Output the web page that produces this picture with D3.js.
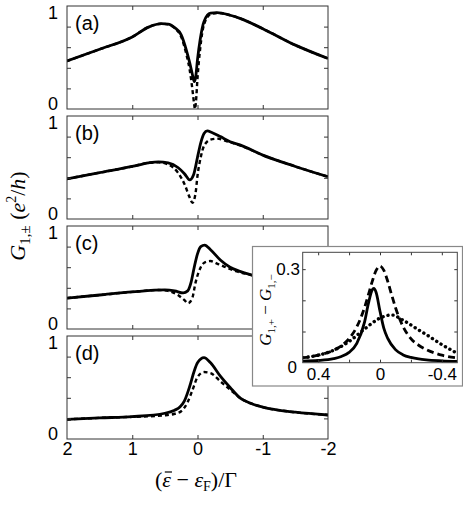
<!DOCTYPE html>
<html>
<head>
    <meta charset="utf-8">
    <title></title>
    <style>
        body { margin: 0; background: #fff; }
        .tick text { font-family: "Liberation Sans", Arial, sans-serif; }
    </style>
</head>
<body>
    <script src="https://d3js.org/d3.v7.min.js"></script>
    <script>

    // panel labels
    var panelNames = ["(a)", "(b)", "(c)", "(d)"];

    // main panels: [x, G]
    var aSolid = [[2,0.466],[1.5,0.58],[1,0.70],[0.75,0.795],[0.55,0.828],[0.45,0.825],[0.35,0.79],[0.25,0.72],[0.17,0.57],[0.12,0.45],[0.08,0.34],[0.05,0.265],[0.03,0.30],[0,0.48],[-0.04,0.67],[-0.1,0.85],[-0.2,0.93],[-0.3,0.935],[-0.5,0.91],[-0.65,0.88],[-1,0.78],[-1.5,0.62],[-2,0.49]];
    var aDashed = [[2,0.466],[1.5,0.58],[1,0.70],[0.75,0.795],[0.55,0.828],[0.45,0.822],[0.35,0.785],[0.25,0.70],[0.17,0.53],[0.12,0.38],[0.08,0.20],[0.05,0.04],[0.04,0.0],[0.025,0.06],[0,0.30],[-0.04,0.58],[-0.1,0.82],[-0.2,0.92],[-0.3,0.932],[-0.5,0.91],[-0.65,0.88],[-1,0.78],[-1.5,0.62],[-2,0.49]];

    var bSolid = [[2,0.39],[1.5,0.45],[1,0.51],[0.75,0.545],[0.6,0.555],[0.45,0.545],[0.3,0.50],[0.2,0.44],[0.12,0.38],[0.06,0.43],[0,0.60],[-0.05,0.74],[-0.1,0.83],[-0.15,0.855],[-0.22,0.84],[-0.35,0.80],[-0.5,0.75],[-0.65,0.72],[-1,0.62],[-1.5,0.51],[-2,0.41]];
    var bDashed = [[2,0.39],[1.5,0.45],[1,0.51],[0.75,0.545],[0.6,0.55],[0.45,0.53],[0.3,0.45],[0.2,0.34],[0.12,0.21],[0.077,0.158],[0.03,0.25],[0,0.42],[-0.05,0.60],[-0.1,0.71],[-0.2,0.77],[-0.3,0.78],[-0.45,0.755],[-0.65,0.715],[-1,0.62],[-1.5,0.51],[-2,0.41]];

    var cSolid = [[2,0.30],[1.5,0.33],[1,0.36],[0.5,0.38],[0.35,0.37],[0.22,0.35],[0.15,0.37],[0.1,0.45],[0.05,0.60],[0,0.73],[-0.05,0.80],[-0.11,0.815],[-0.2,0.77],[-0.35,0.67],[-0.5,0.60],[-0.65,0.56],[-0.85,0.52],[-1,0.49],[-1.5,0.39],[-2,0.31]];
    var cDashed = [[2,0.30],[1.5,0.33],[1,0.36],[0.6,0.378],[0.45,0.37],[0.3,0.33],[0.2,0.28],[0.145,0.25],[0.08,0.30],[0.03,0.45],[-0.05,0.60],[-0.12,0.65],[-0.2,0.66],[-0.3,0.635],[-0.45,0.595],[-0.6,0.56],[-0.85,0.52],[-1,0.49],[-1.5,0.39],[-2,0.31]];

    var dSolid = [[2,0.19],[1.5,0.205],[1,0.217],[0.5,0.25],[0.35,0.28],[0.27,0.31],[0.2,0.37],[0.12,0.51],[0.05,0.66],[0,0.74],[-0.1,0.79],[-0.2,0.74],[-0.35,0.61],[-0.5,0.50],[-0.65,0.40],[-0.8,0.35],[-1,0.31],[-1.5,0.26],[-2,0.233]];
    var dDashed = [[2,0.19],[1.5,0.205],[1,0.215],[0.5,0.23],[0.35,0.245],[0.25,0.27],[0.15,0.36],[0.08,0.47],[0,0.60],[-0.1,0.65],[-0.2,0.64],[-0.35,0.56],[-0.5,0.48],[-0.65,0.40],[-0.8,0.35],[-1,0.31],[-1.5,0.26],[-2,0.233]];

    // inset: G1,+ - G1,-
    var insetSolid = [[0.5,0.005],[0.4,0.007],[0.3,0.013],[0.25,0.02],[0.2,0.033],[0.15,0.062],[0.1,0.13],[0.075,0.19],[0.05,0.234],[0.04,0.238],[0.025,0.225],[0,0.165],[-0.025,0.11],[-0.05,0.078],[-0.1,0.042],[-0.15,0.025],[-0.2,0.017],[-0.25,0.012],[-0.3,0.009],[-0.4,0.006],[-0.5,0.004]];
    var insetDashed = [[0.5,0.016],[0.4,0.024],[0.3,0.04],[0.25,0.054],[0.2,0.077],[0.15,0.115],[0.1,0.177],[0.075,0.218],[0.05,0.261],[0.025,0.296],[0,0.31],[-0.025,0.296],[-0.05,0.261],[-0.075,0.218],[-0.1,0.177],[-0.15,0.115],[-0.2,0.077],[-0.25,0.056],[-0.3,0.042],[-0.4,0.024],[-0.5,0.015]];
    var insetDotted = [[0.5,0.016],[0.4,0.024],[0.3,0.04],[0.2,0.068],[0.1,0.108],[0,0.143],[-0.075,0.153],[-0.15,0.136],[-0.25,0.105],[-0.3,0.09],[-0.4,0.058],[-0.5,0.03]];

    // tick values
    var xTicks = [2, 1, 0, -1, -2];
    var xTickLabels = ["2", "1", "0", "-1", "-2"];
    var yMinorTicks = [0.2, 0.4, 0.6, 0.8];
    var insetXTicks = [0.4, 0.2, 0, -0.2, -0.4];
    var insetXLabels = ["0.4", "", "0", "", "-0.4"];
    var insetYTicks = [0.1, 0.2, 0.3];

    var panels = [
        { name: panelNames[0], solid: aSolid, dashed: aDashed },
        { name: panelNames[1], solid: bSolid, dashed: bDashed },
        { name: panelNames[2], solid: cSolid, dashed: cDashed },
        { name: panelNames[3], solid: dSolid, dashed: dDashed }
    ];

    var sans = "'Liberation Sans', Arial, sans-serif";
    var serif = "'Liberation Serif', 'Times New Roman', serif";

    var svg = d3.select("body")
        .append("svg")
        .attr("width", 463)
        .attr("height", 506);

    // shared x scale (reversed)
    var left = 67, right = 328, panelH = 103, step = 110, top0 = 6;
    var x = d3.scaleLinear().domain([2, -2]).range([left, right]);

    panels.forEach(function(p, i) {
        var top = top0 + i * step;
        var y = d3.scaleLinear().domain([0, 1]).range([top + panelH, top]);
        var g = svg.append("g");

        g.append("clipPath").attr("id", "clip" + i)
            .append("rect")
            .attr("x", left).attr("y", top)
            .attr("width", right - left).attr("height", panelH);

        var line = d3.line()
            .x(function(d) { return x(d[0]); })
            .y(function(d) { return y(d[1]); })
            .curve(d3.curveMonotoneX);

        g.append("path")
            .datum(p.solid)
            .attr("clip-path", "url(#clip" + i + ")")
            .attr("fill", "none")
            .attr("stroke", "#000")
            .attr("stroke-width", 2.8)
            .attr("d", line);

        g.append("path")
            .datum(p.dashed)
            .attr("clip-path", "url(#clip" + i + ")")
            .attr("fill", "none")
            .attr("stroke", "#000")
            .attr("stroke-width", 2.4)
            .attr("stroke-dasharray", "4,3")
            .attr("d", line);

        // inner ticks on all sides
        var inner = xTicks.slice(1, 4);
        g.append("g").attr("transform", "translate(0," + (top + panelH) + ")")
            .call(d3.axisBottom(x).tickValues(inner).tickSize(-4).tickFormat(""))
            .call(function(a) { a.select(".domain").remove(); });
        g.append("g").attr("transform", "translate(0," + top + ")")
            .call(d3.axisTop(x).tickValues(inner).tickSize(-4).tickFormat(""))
            .call(function(a) { a.select(".domain").remove(); });
        g.append("g").attr("transform", "translate(" + left + ",0)")
            .call(d3.axisLeft(y).tickValues(yMinorTicks).tickSize(-4).tickFormat(""))
            .call(function(a) { a.select(".domain").remove(); });
        g.append("g").attr("transform", "translate(" + right + ",0)")
            .call(d3.axisRight(y).tickValues(yMinorTicks).tickSize(-4).tickFormat(""))
            .call(function(a) { a.select(".domain").remove(); });

        g.selectAll(".tick line").attr("stroke", "#333");

        // frame
        g.append("rect")
            .attr("x", left).attr("y", top)
            .attr("width", right - left).attr("height", panelH)
            .attr("fill", "none")
            .attr("stroke", "#333")
            .attr("stroke-width", 1);

        // y labels 1 and 0
        g.append("text").attr("x", 58).attr("y", y(1) + 13)
            .attr("text-anchor", "end").style("font-family", sans).style("font-size", "18px")
            .text("1");
        g.append("text").attr("x", 58).attr("y", y(0) + 1)
            .attr("text-anchor", "end").style("font-family", sans).style("font-size", "18px")
            .text("0");

        // panel name
        g.append("text").attr("x", 75).attr("y", top + 24)
            .style("font-family", sans).style("font-size", "20px")
            .text(p.name);

        // x tick labels on the last panel
        if (i === panels.length - 1) {
            g.append("g").attr("transform", "translate(0," + (top + panelH) + ")")
                .call(d3.axisBottom(x).tickValues(xTicks).tickSize(0).tickPadding(3)
                    .tickFormat(function(d, k) { return xTickLabels[k]; }))
                .call(function(a) { a.select(".domain").remove(); })
                .selectAll("text")
                .style("font-size", "18px")
                .attr("fill", "#000");
        }
    });

    // x title
    var xt = svg.append("text")
        .attr("x", 196).attr("y", 487)
        .attr("text-anchor", "middle")
        .style("font-family", serif).style("font-size", "22px");
    xt.append("tspan").text("(");
    xt.append("tspan").style("font-style", "italic").text("\u03B5");
    xt.append("tspan").text(" \u2212 ");
    xt.append("tspan").style("font-style", "italic").text("\u03B5");
    xt.append("tspan").style("font-size", "14px").attr("dy", 4).text("F");
    xt.append("tspan").attr("dy", -4).text(")/\u0393");

    // bar over the first epsilon
    var ext = xt.node().getExtentOfChar(1);
    svg.append("line")
        .attr("x1", ext.x + 2.5).attr("x2", ext.x + ext.width + 1)
        .attr("y1", 472).attr("y2", 472)
        .attr("stroke", "#000").attr("stroke-width", 1.2);

    // y title
    var yt = svg.append("text")
        .attr("transform", "translate(25,216) rotate(-90)")
        .attr("text-anchor", "middle")
        .style("font-family", serif).style("font-size", "22px");
    yt.append("tspan").style("font-style", "italic").text("G");
    yt.append("tspan").style("font-size", "15px").attr("dy", 5).text("1,\u00B1");
    yt.append("tspan").attr("dy", -5).text(" (");
    yt.append("tspan").style("font-style", "italic").text("e");
    yt.append("tspan").style("font-size", "14px").attr("dy", -9).text("2");
    yt.append("tspan").attr("dy", 9).text("/");
    yt.append("tspan").style("font-style", "italic").text("h");
    yt.append("tspan").text(")");

    // ---- inset ----
    var ins = svg.append("g");
    ins.append("rect")
        .attr("x", 252.5).attr("y", 246.5)
        .attr("width", 210).attr("height", 139.5)
        .attr("fill", "#fff")
        .attr("stroke", "#888")
        .attr("stroke-width", 1.2);

    var il = 302.7, ir = 457.3, it = 252.3, ib = 362.7;
    var ix = d3.scaleLinear().domain([0.5, -0.5]).range([il, ir]);
    var iy = d3.scaleLinear().domain([0, 0.354]).range([ib, it]);

    ins.append("clipPath").attr("id", "clipInset")
        .append("rect")
        .attr("x", il).attr("y", it)
        .attr("width", ir - il).attr("height", ib - it);

    var iline = d3.line()
        .x(function(d) { return ix(d[0]); })
        .y(function(d) { return iy(d[1]); })
        .curve(d3.curveMonotoneX);

    ins.append("path").datum(insetDotted)
        .attr("clip-path", "url(#clipInset)")
        .attr("fill", "none").attr("stroke", "#000")
        .attr("stroke-width", 3.4)
        .attr("stroke-linecap", "round")
        .attr("stroke-dasharray", "0.1,5")
        .attr("d", iline);
    ins.append("path").datum(insetDashed)
        .attr("clip-path", "url(#clipInset)")
        .attr("fill", "none").attr("stroke", "#000")
        .attr("stroke-width", 2.8)
        .attr("stroke-dasharray", "7,4")
        .attr("d", iline);
    ins.append("path").datum(insetSolid)
        .attr("clip-path", "url(#clipInset)")
        .attr("fill", "none").attr("stroke", "#000")
        .attr("stroke-width", 2.8)
        .attr("d", iline);

    ins.append("g").attr("transform", "translate(0," + ib + ")")
        .call(d3.axisBottom(ix).tickValues(insetXTicks).tickSize(-3).tickFormat(""))
        .call(function(a) { a.select(".domain").remove(); });
    ins.append("g").attr("transform", "translate(0," + it + ")")
        .call(d3.axisTop(ix).tickValues(insetXTicks).tickSize(-3).tickFormat(""))
        .call(function(a) { a.select(".domain").remove(); });
    ins.append("g").attr("transform", "translate(" + il + ",0)")
        .call(d3.axisLeft(iy).tickValues(insetYTicks).tickSize(-3).tickFormat(""))
        .call(function(a) { a.select(".domain").remove(); });
    ins.append("g").attr("transform", "translate(" + ir + ",0)")
        .call(d3.axisRight(iy).tickValues(insetYTicks).tickSize(-3).tickFormat(""))
        .call(function(a) { a.select(".domain").remove(); });
    ins.selectAll(".tick line").attr("stroke", "#333");

    ins.append("rect")
        .attr("x", il).attr("y", it)
        .attr("width", ir - il).attr("height", ib - it)
        .attr("fill", "none").attr("stroke", "#444").attr("stroke-width", 1);

    // inset tick labels
    ins.append("g").attr("transform", "translate(0," + ib + ")")
        .call(d3.axisBottom(ix).tickValues(insetXTicks).tickSize(0).tickPadding(5)
            .tickFormat(function(d, k) { return insetXLabels[k]; }))
        .call(function(a) { a.select(".domain").remove(); })
        .selectAll("text").style("font-size", "17px").attr("fill", "#000");

    ins.append("text").attr("x", 300).attr("y", iy(0.3) + 6)
        .attr("text-anchor", "end").style("font-family", sans).style("font-size", "17px")
        .text("0.3");
    ins.append("text").attr("x", 297).attr("y", iy(0) + 10)
        .attr("text-anchor", "end").style("font-family", sans).style("font-size", "17px")
        .text("0");

    // inset y title
    var iyt = ins.append("text")
        .attr("transform", "translate(271,310) rotate(-90)")
        .attr("text-anchor", "middle")
        .style("font-family", serif).style("font-size", "17px");
    iyt.append("tspan").style("font-style", "italic").text("G");
    iyt.append("tspan").style("font-size", "11px").attr("dy", 4).text("1,+");
    iyt.append("tspan").attr("dy", -4).text(" \u2212 ");
    iyt.append("tspan").style("font-style", "italic").text("G");
    iyt.append("tspan").style("font-size", "11px").attr("dy", 4).text("1,\u2212");

    </script>
</body>
</html>
